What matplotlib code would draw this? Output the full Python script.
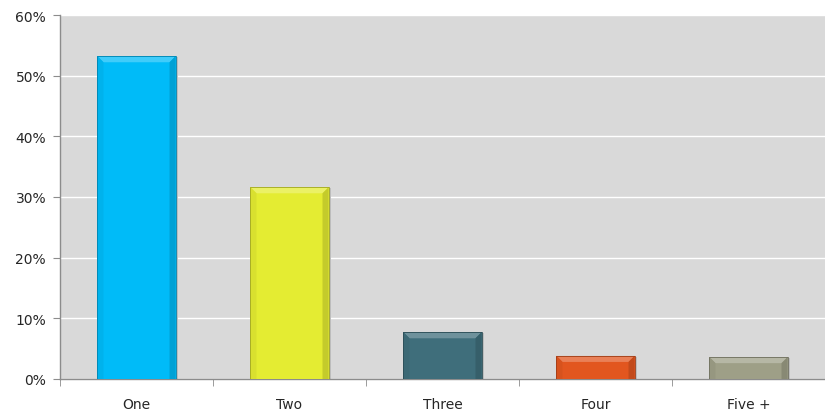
import matplotlib
matplotlib.use("Agg")
import matplotlib.pyplot as plt
from matplotlib.patches import Polygon, Rectangle
import matplotlib.colors as mcolors
import numpy as np

categories = ["One", "Two", "Three", "Four", "Five +"]
shares = [53.2, 31.6, 7.7, 3.8, 3.6]
colors = ["#00BBF8", "#E4EC32", "#3F6E7B", "#E2561F", "#9E9F87"]
yticks = [0, 10, 20, 30, 40, 50, 60]

W, H, DPI = 825, 414, 100
fig = plt.figure(figsize=(W / DPI, H / DPI), dpi=DPI)
ax_l, ax_b, ax_r, ax_t = 60, 34, 825, 398
ax = fig.add_axes([ax_l / W, ax_b / H, (ax_r - ax_l) / W, (ax_t - ax_b) / H])
ax.set_facecolor("#D9D9D9")

n = len(categories)
ax.set_xlim(-0.5, n - 0.5)
ax.set_ylim(0, 60)

# pixel -> data scale factors for the bevel geometry
px_x = n / (ax_r - ax_l)
px_y = 60 / (ax_t - ax_b)
bw = 0.51
bev_x = 6 * px_x
bev_y = 6 * px_y


def shade(c, f):
    r, g, b = mcolors.to_rgb(c)
    if f >= 0:
        return (r + (1 - r) * f, g + (1 - g) * f, b + (1 - b) * f)
    return (r * (1 + f), g * (1 + f), b * (1 + f))


for i, (v, c) in enumerate(zip(shares, colors)):
    x0, x1 = i - bw / 2, i + bw / 2
    # soft shadow on the right
    ax.add_patch(Rectangle((x1, 0), 2 * px_x, v - 1 * px_y, facecolor="#BDBDBD",
                           edgecolor="none", zorder=2))
    ax.add_patch(Rectangle((x0, 0), bw, v, facecolor=c, edgecolor="none", zorder=3))
    # top bevel (light)
    ax.add_patch(Polygon([(x0, v), (x1, v), (x1 - bev_x, v - bev_y), (x0 + bev_x, v - bev_y)],
                         closed=True, facecolor=shade(c, 0.25), edgecolor="none", zorder=4))
    # left bevel
    ax.add_patch(Polygon([(x0, v), (x0 + bev_x, v - bev_y), (x0 + bev_x, 0), (x0, 0)],
                         closed=True, facecolor=shade(c, -0.05), edgecolor="none", zorder=4))
    # right bevel (dark)
    ax.add_patch(Polygon([(x1, v), (x1 - bev_x, v - bev_y), (x1 - bev_x, 0), (x1, 0)],
                         closed=True, facecolor=shade(c, -0.14), edgecolor="none", zorder=4))
    ax.add_patch(Rectangle((x0, 0), bw, v, facecolor="none", edgecolor=shade(c, -0.3),
                           linewidth=0.6, zorder=5))

ax.set_yticks(yticks)
ax.set_yticklabels([f"{t}%" for t in yticks])
ax.yaxis.grid(True, color="white", linewidth=1.0)
ax.set_axisbelow(True)

ax.set_xticks(range(n))
ax.set_xticklabels(categories)
ax.set_xticks(np.arange(-0.5, n, 1.0), minor=True)
ax.tick_params(axis="x", which="major", length=0, pad=13, labelsize=10, labelcolor="#262626")
ax.tick_params(axis="x", which="minor", length=5, color="#8C8C8C", direction="out")
ax.tick_params(axis="y", length=5, color="#8C8C8C", direction="out", labelsize=10,
               labelcolor="#262626", pad=5)

for s in ["top", "right"]:
    ax.spines[s].set_visible(False)
for s in ["left", "bottom"]:
    ax.spines[s].set_color("#8C8C8C")
    ax.spines[s].set_linewidth(1.0)

fig.savefig("out.png", dpi=DPI)
